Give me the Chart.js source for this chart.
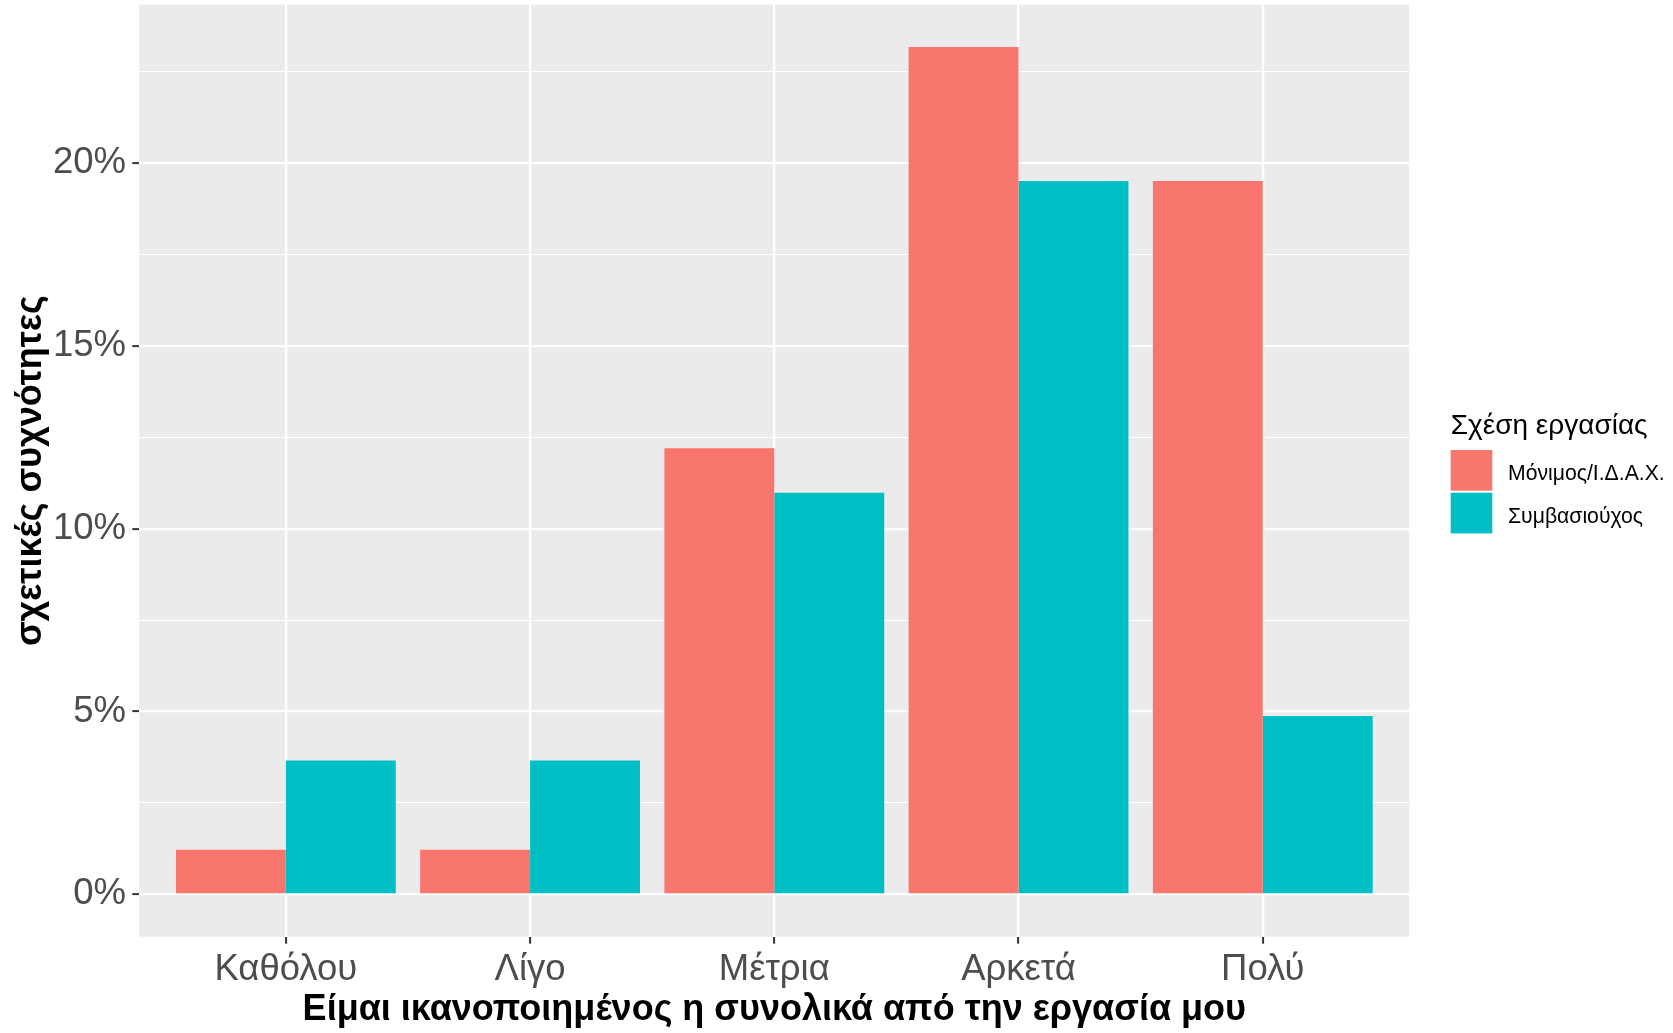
<!DOCTYPE html>
<html>
<head>
<meta charset="utf-8">
<script src="https://cdn.jsdelivr.net/npm/chart.js@4/dist/chart.umd.min.js"></script>
<style>
  html, body { margin: 0; padding: 0; background: #ffffff; }
  #wrap { width: 1673px; height: 1033px; }
</style>
</head>
<body>
<div id="wrap"><canvas id="c" width="1673" height="1033"></canvas></div>
<script>
// ---- data ----
const categories = ['Καθόλου', 'Λίγο', 'Μέτρια', 'Αρκετά', 'Πολύ'];
const seriesNames = ['Μόνιμος/Ι.Δ.Α.Χ.', 'Συμβασιούχος'];
const monimoi = [1.22, 1.22, 12.20, 23.17, 19.51];
const symvasiouxoi = [3.66, 3.66, 10.98, 19.51, 4.88];
const yTickValues = [0, 2.5, 5, 7.5, 10, 12.5, 15, 17.5, 20, 22.5];
const yMajorTicks = [0, 5, 10, 15, 20];
const xTitle = 'Είμαι ικανοποιημένος η συνολικά από την εργασία μου';
const yTitle = 'σχετικές συχνότητες';
const legendTitle = 'Σχέση εργασίας';

const FONT = "'Liberation Sans', Arial, sans-serif";

const AREA = { left: 139.3, right: 1409.3, top: 4.7, bottom: 936.7 };
const W = 1673, H = 1033;

const toPoints = arr => arr.map((v, i) => ({ x: i + 1, y: v }));

const panelBg = {
  id: 'panelBg',
  beforeDraw(chart) {
    const { ctx, chartArea: a } = chart;
    ctx.save();
    ctx.fillStyle = '#EBEBEB';
    ctx.fillRect(a.left, a.top, a.right - a.left, a.bottom - a.top);
    ctx.restore();
  }
};

const ggLegend = {
  id: 'ggLegend',
  afterDraw(chart) {
    const { ctx } = chart;
    const x0 = 1450.7, kw = 41.6, kh = 40.7, gap = 2;
    ctx.save();
    ctx.fillStyle = '#000000';
    ctx.textAlign = 'left';
    ctx.textBaseline = 'alphabetic';
    ctx.font = `28px ${FONT}`;
    ctx.fillText(legendTitle, x0, 434);
    let y = 450;
    chart.data.datasets.forEach(ds => {
      ctx.fillStyle = ds.backgroundColor;
      ctx.fillRect(x0, y, kw, kh);
      ctx.fillStyle = '#000000';
      ctx.textBaseline = 'middle';
      ctx.font = `21.2px ${FONT}`;
      ctx.fillText(ds.label, 1508, y + kh / 2 + 4);
      y += kh + gap;
    });
    ctx.restore();
  }
};

new Chart(document.getElementById('c'), {
  type: 'bar',
  data: {
    datasets: [
      { label: seriesNames[0], data: toPoints(monimoi), backgroundColor: '#F8766D' },
      { label: seriesNames[1], data: toPoints(symvasiouxoi), backgroundColor: '#00BFC4' }
    ]
  },
  options: {
    responsive: false,
    devicePixelRatio: 1,
    animation: false,
    layout: { padding: { top: AREA.top, right: W - AREA.right, left: 0, bottom: 0 } },
    datasets: { bar: { categoryPercentage: 0.9, barPercentage: 1.0, borderWidth: 0 } },
    plugins: { legend: { display: false }, tooltip: { enabled: false } },
    scales: {
      x: {
        type: 'linear',
        offset: false,
        min: 0.4,
        max: 5.6,
        afterBuildTicks(scale) { scale.ticks = categories.map((c, i) => ({ value: i + 1 })); },
        afterFit(scale) {
          scale.height = H - AREA.bottom;
          scale.paddingLeft = 0; scale.paddingRight = 0;
        },
        border: { display: false },
        grid: { offset: false, color: '#FFFFFF', lineWidth: 2.2, drawTicks: true, tickLength: 7, tickColor: '#333333', tickWidth: 2 },
        ticks: {
          autoSkip: false, maxRotation: 0, padding: 4.4,
          color: '#4D4D4D',
          font: { family: FONT, size: 36.5 },
          callback: v => categories[Math.round(v) - 1]
        },
        title: {
          display: true, text: xTitle, color: '#000000',
          font: { family: FONT, size: 36, weight: 'bold', lineHeight: 1 },
          padding: { top: 0, bottom: 4.5 }
        }
      },
      y: {
        type: 'linear',
        min: -1.1585,
        max: 24.3285,
        afterBuildTicks(scale) { scale.ticks = yTickValues.map(v => ({ value: v })); },
        afterFit(scale) {
          scale.width = AREA.left;
          scale.paddingTop = 0; scale.paddingBottom = 0;
        },
        border: { display: false },
        grid: {
          color: '#FFFFFF',
          lineWidth: c => (yMajorTicks.includes(c.tick && c.tick.value) ? 2.2 : 1.1),
          drawTicks: true, tickLength: 7,
          tickColor: c => (yMajorTicks.includes(c.tick && c.tick.value) ? '#333333' : 'rgba(0,0,0,0)'),
          tickWidth: 2
        },
        ticks: {
          autoSkip: false, padding: 6.3,
          color: '#4D4D4D',
          font: { family: FONT, size: 36.5 },
          callback: v => (yMajorTicks.includes(v) ? v + '%' : '')
        },
        title: {
          display: true, text: yTitle, color: '#000000',
          font: { family: FONT, size: 36, weight: 'bold', lineHeight: 1 },
          padding: { top: 13, bottom: 0 }
        }
      }
    }
  },
  plugins: [panelBg, ggLegend]
});
</script>
</body>
</html>
